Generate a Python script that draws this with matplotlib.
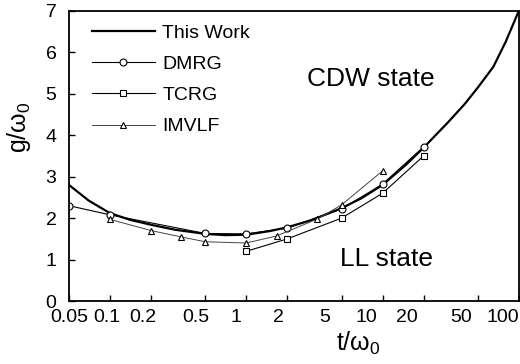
import numpy as np
import matplotlib
matplotlib.use("Agg")
import matplotlib.pyplot as plt
from matplotlib.transforms import ScaledTranslation

plt.rcParams['font.family'] = ['Liberation Sans', 'DejaVu Sans']
plt.rcParams['mathtext.fontset'] = 'custom'
plt.rcParams['mathtext.rm'] = 'Liberation Sans'
plt.rcParams['mathtext.it'] = 'Liberation Sans'

# this work (smooth phase boundary)
work_t = [0.05, 0.07, 0.1, 0.14, 0.2, 0.3, 0.5, 0.7, 1, 1.5, 2, 3, 5, 7, 10,
          15, 20, 30, 40, 50, 65, 80, 100]
work_g = [2.8, 2.42, 2.12, 1.96, 1.84, 1.72, 1.62, 1.59, 1.6, 1.69, 1.78, 1.95,
          2.24, 2.48, 2.8, 3.3, 3.7, 4.3, 4.75, 5.15, 5.65, 6.25, 7.0]

# DMRG
dmrg_t = [0.05, 0.1, 0.5, 1, 2, 5, 10, 20]
dmrg_g = [2.3, 2.08, 1.63, 1.62, 1.76, 2.22, 2.82, 3.72]

# TCRG
tcrg_t = [1, 2, 5, 10, 20]
tcrg_g = [1.2, 1.5, 2.0, 2.6, 3.5]

# IMVLF
imv_t = [0.1, 0.2, 0.33, 0.5, 1, 1.67, 3.33, 5, 10]
imv_g = [1.97, 1.7, 1.55, 1.43, 1.4, 1.57, 1.98, 2.32, 3.14]

xticks = [0.05, 0.1, 0.2, 0.5, 1, 2, 5, 10, 20, 50, 100]
xlabels = ['0.05', '0.1', '0.2', '0.5', '1', '2', '5', '10', '20', '50', '100']
# the original tick labels sit a little left of their ticks (pixels)
xlabel_shift = [0, -3, -8, -9, -10, -9, -17, -16, -17, -17, -16]

fig = plt.figure(figsize=(5.2, 3.64), dpi=100)
ax = fig.add_axes([0.1327, 0.173, 0.865, 0.797])

ax.plot(work_t, work_g, '-', color='black', lw=1.6, label='This Work')
ax.plot(dmrg_t, dmrg_g, '-o', color='black', lw=0.8, ms=5, mfc='white',
        mec='black', mew=0.8, label='DMRG')
ax.plot(tcrg_t, tcrg_g, '-s', color='black', lw=0.8, ms=5, mfc='white',
        mec='black', mew=0.8, label='TCRG')
ax.plot(imv_t, imv_g, '-^', color='#444444', lw=0.7, ms=5, mfc='white',
        mec='black', mew=0.8, label='IMVLF')

ax.set_xscale('log')
ax.set_xlim(0.05, 100)
ax.set_ylim(0, 7)
ax.set_xticks(xticks)
ax.set_xticklabels(xlabels)
ax.minorticks_off()
ax.set_yticks(range(0, 8))
ax.tick_params(direction='in', length=4, width=1, labelsize=14)
ax.tick_params(axis='x', pad=6)
ax.tick_params(axis='y', pad=9)
for lab, dx in zip(ax.get_xticklabels(), xlabel_shift):
    lab.set_transform(lab.get_transform() +
                      ScaledTranslation(dx / 100, 0, fig.dpi_scale_trans))
for s in ax.spines.values():
    s.set_linewidth(1.3)

ax.set_xlabel(r't/ω$_0$', fontsize=18, labelpad=0)
ax.xaxis.set_label_coords(0.644, -0.1)
ax.set_ylabel(r'g/ω$_0$', fontsize=18, labelpad=4)
ax.yaxis.set_label_coords(-0.08, 0.6)

ax.text(0.67, 0.765, 'CDW state', fontsize=19, ha='center', va='center',
        transform=ax.transAxes)
ax.text(0.705, 0.145, 'LL state', fontsize=19, ha='center', va='center',
        transform=ax.transAxes)

ax.legend(loc='upper left', bbox_to_anchor=(0.026, 0.995), frameon=False,
          fontsize=14, handlelength=3.2, handletextpad=0.4,
          labelspacing=0.7, borderaxespad=0.2, numpoints=1)

fig.savefig('out.png', dpi=100)
